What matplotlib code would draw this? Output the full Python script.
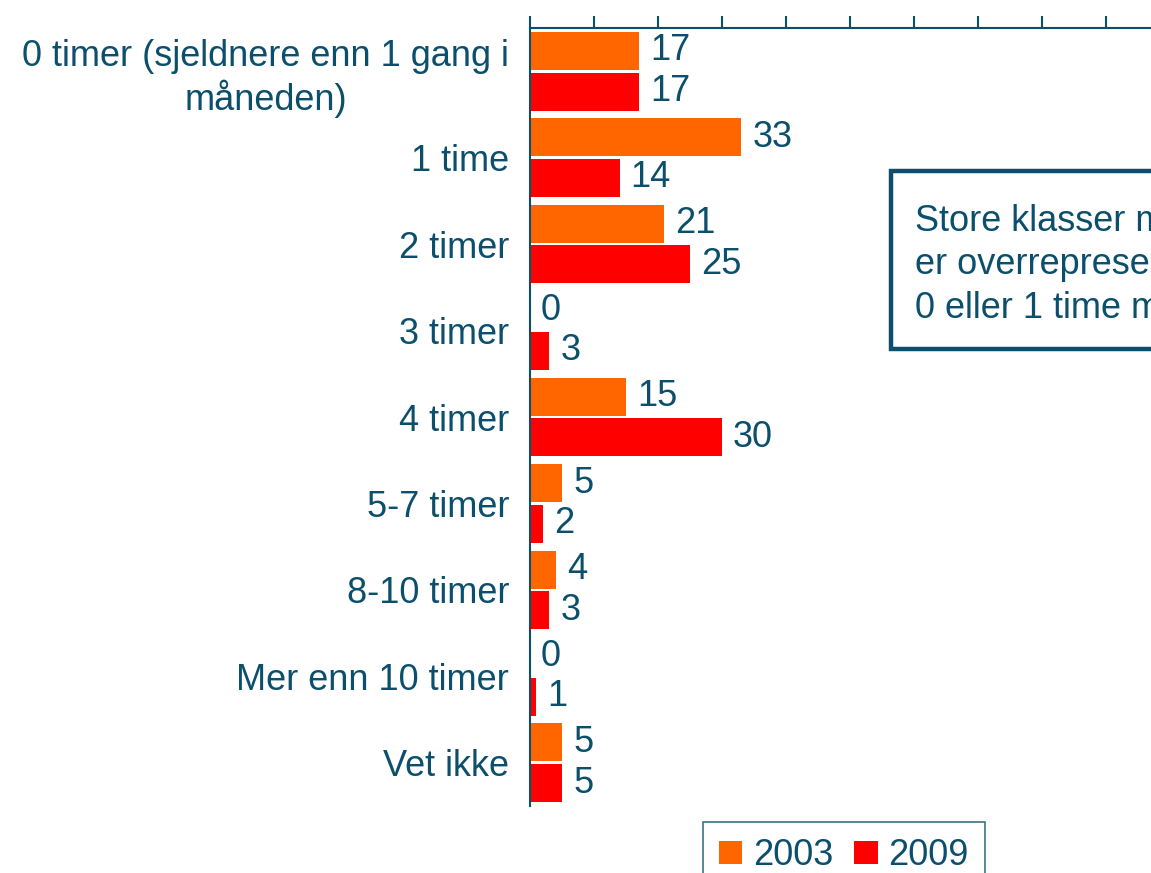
import matplotlib
matplotlib.use("Agg")
import matplotlib.pyplot as plt
from matplotlib.patches import Rectangle
import numpy as np

categories = ["0 timer (sjeldnere enn 1 gang i\nmåneden)", "1 time", "2 timer", "3 timer",
              "4 timer", "5-7 timer", "8-10 timer", "Mer enn 10 timer", "Vet ikke"]
values_2003 = [17, 33, 21, 0, 15, 5, 4, 0, 5]
values_2009 = [17, 14, 25, 3, 30, 2, 3, 1, 5]
series_labels = ["2003", "2009"]
note_text = "Store klasser med\ner overrepresentert\n0 eller 1 time med"

TEAL = "#0B4F6C"
ORANGE = "#FF6600"
RED = "#FF0000"
FS = 26

plt.rcParams['font.family'] = ['Liberation Sans', 'DejaVu Sans']

W, H = 1151, 873
fig = plt.figure(figsize=(W / 100, H / 100), dpi=100)
ax = fig.add_axes([530 / W, 1 - 806 / H, 640 / W, (806 - 28) / H])

y = np.arange(len(categories))
h = 0.44
off = 0.235
ax.barh(y - off, values_2003, height=h, color=ORANGE, label=series_labels[0])
ax.barh(y + off, values_2009, height=h, color=RED, label=series_labels[1])

for yi, v in zip(y - off, values_2003):
    ax.annotate(str(v), (v, yi), xytext=(8, 0), textcoords="offset points",
                va="center", ha="left", fontsize=FS, color=TEAL)
for yi, v in zip(y + off, values_2009):
    ax.annotate(str(v), (v, yi), xytext=(8, 0), textcoords="offset points",
                va="center", ha="left", fontsize=FS, color=TEAL)

ax.set_xlim(0, 100)
ax.set_ylim(len(categories) - 0.5, -0.5)
ax.set_yticks(y)
ax.set_yticklabels(categories, fontsize=FS, color=TEAL)
for lab in ax.get_yticklabels():
    lab.set_multialignment("center")
ax.tick_params(axis="y", length=0, pad=15)
ax.set_xticks(np.arange(0, 101, 10))
ax.xaxis.tick_top()
ax.tick_params(axis="x", direction="out", length=8.6, width=1.5, color=TEAL,
               labeltop=False, labelbottom=False)
for s in ["bottom", "right"]:
    ax.spines[s].set_visible(False)
for s in ["top", "left"]:
    ax.spines[s].set_color(TEAL)
    ax.spines[s].set_linewidth(1.5)

# note box
rect = Rectangle((891 / W, 1 - 349 / H), 400 / W, 178 / H, transform=fig.transFigure,
                 facecolor="white", edgecolor=TEAL, linewidth=3.2, zorder=5)
fig.patches.append(rect)
fig.text(915 / W, 1 - 265 / H, note_text, fontsize=FS, color=TEAL, ha="left",
         va="center", linespacing=1.33, zorder=6)

leg = fig.legend(loc="upper left", bbox_to_anchor=(703 / W, 1 - 822 / H), ncol=2,
                 fontsize=FS, frameon=True, fancybox=False, handlelength=0.64,
                 handleheight=0.64, handletextpad=0.3, columnspacing=0.58,
                 borderpad=0.45, borderaxespad=0)
leg.get_frame().set_edgecolor(TEAL)
leg.get_frame().set_linewidth(1.2)
for t in leg.get_texts():
    t.set_color(TEAL)

fig.savefig("out.png", dpi=100)
